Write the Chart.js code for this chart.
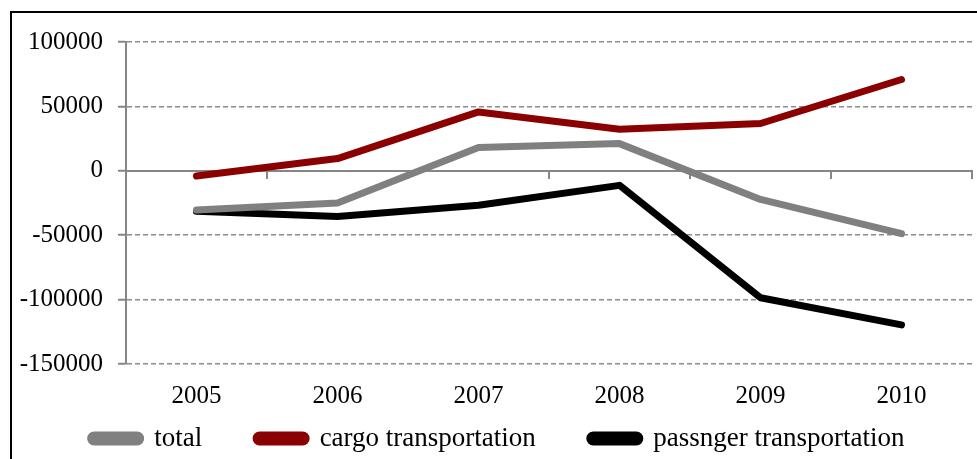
<!DOCTYPE html>
<html>
<head>
<meta charset="utf-8">
<script src="https://cdn.jsdelivr.net/npm/chart.js@4"></script>
<style>
  html, body { margin: 0; padding: 0; background: #fff; overflow: hidden; }
  #wrap { position: relative; width: 977px; height: 459px; overflow: hidden; }
  #frame { position: absolute; left: 10px; top: 11px; width: 1000px; height: 500px; border: 2px solid #000; box-sizing: border-box; }
  #c { position: absolute; left: 0; top: 0; }
</style>
</head>
<body>
<div id="wrap">
  <div id="frame"></div>
  <canvas id="c" width="977" height="462"></canvas>
</div>
<script>
const years = ['2005', '2006', '2007', '2008', '2009', '2010'];
const total = [-30500, -25000, 18000, 21100, -22200, -48800];
const cargo = [-4000, 9500, 45700, 32300, 36700, 70900];
const passenger = [-31500, -35400, -26800, -11300, -98600, -119600];
const seriesNames = ['total', 'cargo transportation', 'passnger transportation'];
const yTicks = [-150000, -100000, -50000, 0, 50000, 100000];

const FONT = 'Liberation Serif';
const AXIS = '#868686';
const NB = '\u00a0';
const trailing = [8, 8, 10];

function ds(label, data, color) {
  return {
    label, data,
    borderColor: color, backgroundColor: color,
    borderWidth: 7, pointRadius: 0, pointHoverRadius: 0,
    borderCapStyle: 'round', borderJoinStyle: 'round',
    tension: 0, fill: false
  };
}

new Chart(document.getElementById('c'), {
  type: 'line',
  data: {
    labels: years,
    datasets: [
      ds(seriesNames[0], total, '#808080'),
      ds(seriesNames[1], cargo, '#8B0000'),
      ds(seriesNames[2], passenger, '#000000')
    ]
  },
  options: {
    responsive: false,
    animation: false,
    events: [],
    layout: { padding: { left: 0, right: 5, top: 42, bottom: 0 } },
    plugins: {
      tooltip: { enabled: false },
      legend: {
        position: 'bottom',
        align: 'end',
        labels: {
          color: '#000',
          font: { family: FONT, size: 27 },
          boxWidth: 50,
          boxHeight: 7,
          padding: 0,
          useBorderRadius: true,
          borderRadius: 3.5,
          generateLabels: (chart) => {
            const items = Chart.defaults.plugins.legend.labels.generateLabels(chart);
            items.forEach((it, i) => { it.text = it.text + NB.repeat(trailing[i]); });
            return items;
          }
        }
      }
    },
    scales: {
      x: {
        type: 'category',
        offset: true,
        position: 'bottom',
        border: { display: false },
        grid: { display: false, drawTicks: false },
        ticks: { color: '#000', font: { family: FONT, size: 25 }, padding: 17, maxRotation: 0 },
        afterFit: (s) => { s.height = 61; }
      },
      x0: {
        type: 'category',
        labels: years,
        offset: true,
        position: { y: 0 },
        border: { display: true, color: AXIS, width: 2 },
        grid: { offset: true, drawOnChartArea: false, drawTicks: true, tickLength: 7, color: AXIS, lineWidth: 2 },
        ticks: { display: true, callback: () => '', padding: 0 }
      },
      y: {
        min: yTicks[0],
        max: yTicks[yTicks.length - 1],
        afterBuildTicks: (s) => { s.ticks = yTicks.map(v => ({ value: v })); },
        afterFit: (s) => { s.width = 126; },
        border: { display: true, color: AXIS, width: 2, dash: [5, 3] },
        grid: { color: '#8c8c8c', lineWidth: 1.5, drawTicks: true, tickLength: 8, tickColor: AXIS, tickBorderDash: [], tickWidth: 2 },
        ticks: { color: '#000', font: { family: FONT, size: 25 }, padding: 15, callback: (v) => String(v) }
      }
    }
  }
});
</script>
</body>
</html>
